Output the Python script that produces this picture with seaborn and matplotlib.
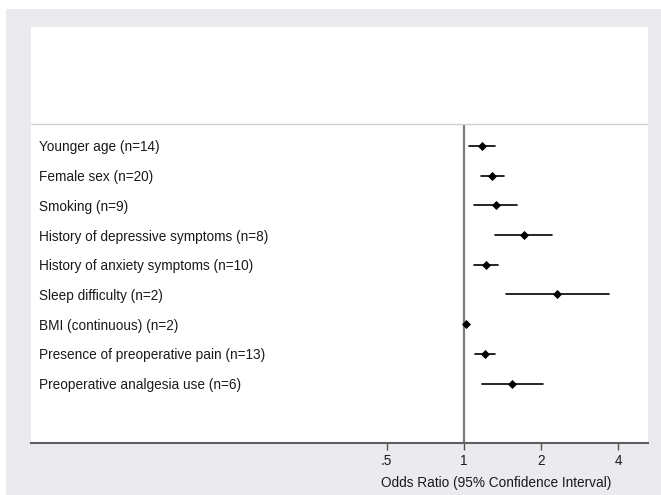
import matplotlib
matplotlib.use("Agg")
import matplotlib.pyplot as plt
from matplotlib.patches import Rectangle
from matplotlib.ticker import FixedLocator, FixedFormatter, NullLocator
import seaborn as sns
import pandas as pd

labels = [
    "Younger age (n=14)",
    "Female sex (n=20)",
    "Smoking (n=9)",
    "History of depressive symptoms (n=8)",
    "History of anxiety symptoms (n=10)",
    "Sleep difficulty (n=2)",
    "BMI (continuous) (n=2)",
    "Presence of preoperative pain (n=13)",
    "Preoperative analgesia use (n=6)",
]
odds_ratio = [1.18, 1.29, 1.33, 1.71, 1.22, 2.31, 1.02, 1.21, 1.54]
ci_low = [1.05, 1.17, 1.09, 1.32, 1.09, 1.46, 1.01, 1.10, 1.18]
ci_high = [1.32, 1.43, 1.61, 2.21, 1.36, 3.69, 1.03, 1.32, 2.03]

tick_values = [0.5, 1, 2, 4]
tick_labels = [".5", "1", "2", "4"]
x_title = "Odds Ratio (95% Confidence Interval)"

df = pd.DataFrame({
    "label": labels * 3,
    "value": ci_low + odds_ratio + ci_high,
})

sns.set_style("white")
plt.rcParams["font.family"] = ["Liberation Sans", "DejaVu Sans"]

W, H = 661, 495
fig = plt.figure(figsize=(W / 100, H / 100), dpi=100, facecolor="white")
fig.add_artist(Rectangle((6 / W, 0), 1 - 6 / W, (H - 9) / H,
                         transform=fig.transFigure, facecolor="#eaeaef",
                         edgecolor="none", zorder=-10))

ax = fig.add_axes([30.7 / W, (H - 443) / H, (648.3 - 30.7) / W, (443 - 27) / H])
ax.set_facecolor("white")
ax.set_xscale("log")

sns.pointplot(data=df, x="value", y="label", order=labels,
              estimator="median", errorbar=("pi", 100),
              linestyle="none", marker="D", markersize=2.6,
              color="black", err_kws={"linewidth": 1.2}, ax=ax)

ax.set_xlim(0.02047, 5.232)
ax.set_ylim(10.0, -4.0)

ax.vlines(1, -0.75, 10, color="#7a7a7a", linewidth=1.6, zorder=1)
ax.axhline(-0.75, color="#cfcfcf", linewidth=1.0, zorder=1)

ax.xaxis.set_major_locator(FixedLocator(tick_values))
ax.xaxis.set_major_formatter(FixedFormatter(tick_labels))
ax.xaxis.set_minor_locator(NullLocator())
ax.tick_params(axis="x", bottom=True, length=5.0, width=1.0, color="#555555",
               pad=3.0, labelsize=9.8, labelcolor="#1a1a1a")
ax.tick_params(axis="y", left=False, length=0, pad=-6.2,
               labelsize=9.8, labelcolor="#1a1a1a")
for t in ax.get_yticklabels():
    t.set_horizontalalignment("left")

ax.set_ylabel("")
ax.set_xlabel(x_title, fontsize=9.8, color="#1a1a1a", va="center")
ax.xaxis.set_label_coords((495.8 - 30.7) / (648.3 - 30.7), (443 - 483) / (443 - 27))

for s in ["top", "right", "left"]:
    ax.spines[s].set_visible(False)
ax.spines["bottom"].set_color("#5f5f5f")
ax.spines["bottom"].set_linewidth(1.5)

fig.savefig("out.png", dpi=100, facecolor="white")
